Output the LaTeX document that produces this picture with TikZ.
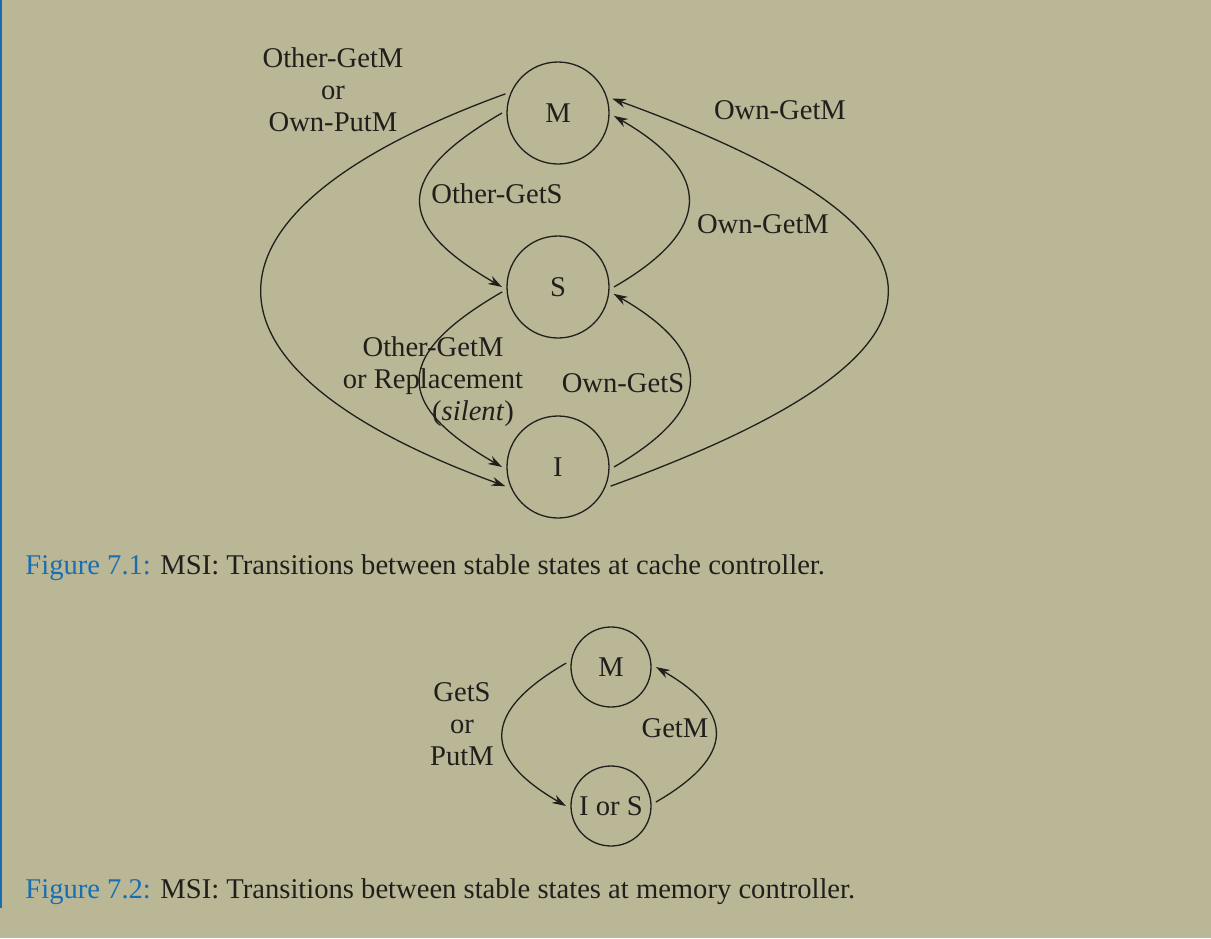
\documentclass[tikz,border=0pt]{standalone}
\usepackage{fontspec}
\setmainfont{Liberation Serif}
\usepackage{tikz}
\usetikzlibrary{arrows.meta, positioning}
\definecolor{pagebg}{RGB}{185,183,150}
\definecolor{capblue}{RGB}{25,110,178}
\definecolor{inkcol}{RGB}{35,30,28}

\begin{document}
\begin{tikzpicture}[
    x=0.5pt, y=0.5pt, color=inkcol,
    font=\fontsize{14.3pt}{16pt}\selectfont,
    state/.style={draw, circle, minimum size=51pt, inner sep=0pt,
                  outer sep=2.5pt, line width=0.65pt},
    smallstate/.style={state, minimum size=40pt},
    trans/.style={-{Stealth[length=7pt,width=4.5pt]}, line width=0.65pt},
    lbl/.style={align=center, inner sep=0pt},
    caption/.style={anchor=base west, inner sep=0pt}
  ]
  \fill[pagebg] (0,0) rectangle (1211,-938);
  \useasboundingbox (0,0) rectangle (1211,-938);
  \fill[capblue] (0,0) rectangle (2,-908);

  % cache controller
  \node[state] (M) at (558,-113) {M};
  \node[state, below=31pt of M] (S) {S};
  \node[state, below=34pt of S] (I) {I};
  \draw[trans] (M.180) to[out=210, in=150, looseness=1.85] (S.180);
  \draw[trans] (S.0) to[out=30, in=-30, looseness=1.72] (M.-3);
  \draw[trans] (S.185) to[out=210, in=150, looseness=1.85] (I.180);
  \draw[trans] (I.0) to[out=30, in=-30, looseness=1.72] (S.-7);
  \draw[trans] (M.160) to[out=200, in=160, looseness=2.26] (I.200);
  \draw[trans] (I.-20) to[out=20, in=-20, looseness=2.58] (M.15);
  \node[lbl] (lblMI) at (333,-90) {Other-GetM\\or\\Own-PutM};
  \node[lbl] (lblMS) at (497,-194) {Other-GetS};
  \node[lbl] (lblSM) at (763,-224) {Own-GetM};
  \node[lbl] (lblSI) at (433,-382) {Other-GetM\\or Replacement\\\hspace*{40pt}(\textit{silent})};
  \node[lbl] (lblIS) at (623,-383) {Own-GetS};
  \node[lbl] (lblIM) at (780,-110) {Own-GetM};
  \node[caption] (cap1) at (25,-574)
    {{\color{capblue}Figure 7.1:} MSI: Transitions between stable states at cache controller.};

  % memory controller
  \node[smallstate] (M2) at (611,-667) {M};
  \node[smallstate, below=24.5pt of M2] (IS) {I or S};
  \draw[trans] (M2.175) to[out=210, in=150, looseness=1.75] (IS.180);
  \draw[trans] (IS.5) to[out=30, in=-30, looseness=1.74] (M2.0);
  \node[lbl] (lblMIS) at (462,-724) {GetS\\or\\PutM};
  \node[lbl] (lblISM) at (675,-728) {GetM};
  \node[caption] (cap2) at (25,-898)
    {{\color{capblue}Figure 7.2:} MSI: Transitions between stable states at memory controller.};
\end{tikzpicture}
\end{document}
